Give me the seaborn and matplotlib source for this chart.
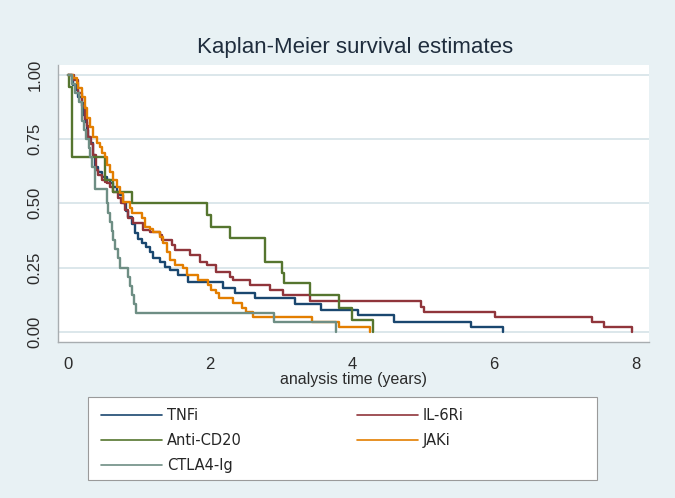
import matplotlib
matplotlib.use("Agg")
import matplotlib.pyplot as plt
from matplotlib.patches import Rectangle
import seaborn as sns
import pandas as pd

# Kaplan-Meier step values (time in years, survival after each step)
tnfi_t = [0, 0.05, 0.075, 0.12, 0.146, 0.19, 0.216, 0.24, 0.263, 0.286,
          0.31, 0.357, 0.38, 0.427, 0.474, 0.545, 0.592, 0.638, 0.685, 0.732,
          0.78, 0.82, 0.85, 0.9, 0.944, 0.99, 1.038, 1.1, 1.155, 1.2,
          1.3, 1.366, 1.437, 1.554, 1.695, 2.19, 2.35, 2.63, 3.2, 3.57,
          4.09, 4.59, 5.67, 6.13]
tnfi_s = [1.0, 0.98, 0.96, 0.942, 0.916, 0.89, 0.844, 0.818, 0.786, 0.76,
          0.734, 0.688, 0.643, 0.623, 0.604, 0.591, 0.578, 0.565, 0.545, 0.532,
          0.5, 0.47, 0.448, 0.42, 0.383, 0.36, 0.344, 0.33, 0.312, 0.286,
          0.27, 0.253, 0.24, 0.221, 0.195, 0.169, 0.149, 0.13, 0.108, 0.084,
          0.065, 0.039, 0.02, 0.0]

il6_t = [0, 0.09, 0.146, 0.19, 0.24, 0.263, 0.286, 0.33, 0.357, 0.4,
         0.427, 0.474, 0.52, 0.545, 0.59, 0.638, 0.7, 0.75, 0.803, 0.85,
         0.92, 1.061, 1.155, 1.296, 1.32, 1.46, 1.507, 1.718, 1.859, 1.953,
         2.09, 2.28, 2.33, 2.563, 2.845, 3.03, 3.408, 4.97, 5.01, 6.01,
         7.38, 7.55, 7.95]
il6_s = [1.0, 0.98, 0.93, 0.88, 0.83, 0.8, 0.76, 0.73, 0.69, 0.63,
         0.61, 0.591, 0.585, 0.578, 0.565, 0.545, 0.52, 0.5, 0.474, 0.442,
         0.422, 0.396, 0.39, 0.377, 0.357, 0.338, 0.318, 0.299, 0.273, 0.26,
         0.234, 0.214, 0.2, 0.182, 0.162, 0.143, 0.121, 0.095, 0.075, 0.056,
         0.036, 0.017, 0.0]

cd20_t = [0, 0.01, 0.05, 0.52, 0.64, 0.897, 1.953, 2.02, 2.28, 2.775,
          3.01, 3.04, 3.408, 3.81, 3.995, 4.29]
cd20_s = [1.0, 0.955, 0.682, 0.591, 0.545, 0.5, 0.455, 0.409, 0.364, 0.273,
          0.227, 0.19, 0.143, 0.091, 0.045, 0.0]

jak_t = [0, 0.075, 0.122, 0.146, 0.192, 0.24, 0.263, 0.31, 0.357, 0.404,
         0.45, 0.474, 0.52, 0.545, 0.592, 0.638, 0.685, 0.732, 0.78, 0.873,
         0.896, 1.037, 1.085, 1.155, 1.2, 1.296, 1.343, 1.39, 1.437, 1.507,
         1.624, 1.67, 1.836, 1.977, 2.02, 2.08, 2.12, 2.33, 2.45, 2.5,
         2.61, 3.43, 3.81, 4.25]
jak_s = [1.0, 0.987, 0.968, 0.948, 0.916, 0.87, 0.831, 0.799, 0.76, 0.734,
         0.721, 0.695, 0.682, 0.65, 0.623, 0.591, 0.565, 0.539, 0.506, 0.48,
         0.461, 0.441, 0.409, 0.402, 0.389, 0.37, 0.344, 0.312, 0.279, 0.26,
         0.247, 0.22, 0.201, 0.182, 0.163, 0.149, 0.13, 0.11, 0.091, 0.078,
         0.058, 0.039, 0.019, 0.0]

ctla_t = [0, 0.05, 0.1, 0.15, 0.19, 0.22, 0.26, 0.29, 0.31, 0.34,
          0.38, 0.545, 0.57, 0.59, 0.615, 0.64, 0.66, 0.7, 0.73, 0.85,
          0.873, 0.9, 0.93, 0.96, 2.9, 3.78]
ctla_s = [1.0, 0.964, 0.929, 0.893, 0.821, 0.786, 0.75, 0.714, 0.679, 0.643,
          0.557, 0.5, 0.464, 0.429, 0.393, 0.357, 0.321, 0.286, 0.25, 0.214,
          0.179, 0.143, 0.107, 0.071, 0.036, 0.0]

groups = ["TNFi", "IL-6Ri", "Anti-CD20", "JAKi", "CTLA4-Ig"]
series = {
    "TNFi": (tnfi_t, tnfi_s),
    "IL-6Ri": (il6_t, il6_s),
    "Anti-CD20": (cd20_t, cd20_s),
    "JAKi": (jak_t, jak_s),
    "CTLA4-Ig": (ctla_t, ctla_s),
}
# stata s2color palette
colors = {"TNFi": "#1a476f", "IL-6Ri": "#90353b", "Anti-CD20": "#55752f",
          "JAKi": "#e37e00", "CTLA4-Ig": "#6e8e84"}

bg = "#e8f1f4"
sns.set_style("white")
plt.rcParams["font.family"] = ["Liberation Sans", "DejaVu Sans"]

fig = plt.figure(figsize=(6.75, 4.98), dpi=100, facecolor=bg)
W, H = 675, 498
ax = fig.add_axes([58 / W, 1 - 341.7 / H, (649 - 58) / W, (341.7 - 65) / H])
ax.set_facecolor("white")

for g in groups:
    t, s = series[g]
    df = pd.DataFrame({"time": t, "surv": s})
    sns.lineplot(data=df, x="time", y="surv", ax=ax, color=colors[g], label=g,
                 drawstyle="steps-post", estimator=None, sort=False, lw=1.7)

ax.set_xlim(-0.141, 8.183)
ax.set_ylim(-0.039, 1.039)
ax.set_xticks([0, 2, 4, 6, 8])
ax.set_yticks([0, 0.25, 0.5, 0.75, 1.0])
ax.set_yticklabels(["0.00", "0.25", "0.50", "0.75", "1.00"], rotation=90, va="center")
ax.yaxis.grid(True, color="#dce7eb", lw=1.4)
ax.xaxis.grid(False)
ax.set_axisbelow(True)
for side in ["top", "right"]:
    ax.spines[side].set_visible(False)
for side in ["left", "bottom"]:
    ax.spines[side].set_color("#a8adb0")
    ax.spines[side].set_linewidth(1.0)
ax.tick_params(direction="out", length=5, width=1, color="#a8adb0",
               labelsize=12, labelcolor="#2b2b2b", pad=6)
ax.set_xlabel("analysis time (years)", fontsize=11.5, color="#2b2b2b", labelpad=0)
ax.set_ylabel("")

fig.text(355 / W, 1 - 48 / H, "Kaplan-Meier survival estimates", ha="center",
         va="center", fontsize=16, color="#1f2d3d")

# legend box like stata's
handles, labels = ax.get_legend_handles_labels()
ax.get_legend().remove()
lookup = dict(zip(labels, handles))
order = ["TNFi", "Anti-CD20", "CTLA4-Ig", "IL-6Ri", "JAKi"]
fig.add_artist(Rectangle((88 / W, 1 - 480 / H), (597 - 88) / W, (480 - 397) / H,
                         transform=fig.transFigure, facecolor="white",
                         edgecolor="#9a9a9a", lw=0.8, zorder=1))
leg = fig.legend([lookup[o] for o in order], order, ncol=2, loc="upper left",
                 bbox_to_anchor=(91 / W, 1 - 398 / H), frameon=False,
                 handlelength=4.2, handletextpad=0.3, columnspacing=7.9,
                 labelspacing=0.68, borderpad=0.2,
                 prop={"family": "DejaVu Sans", "size": 10.5})
leg.set_zorder(2)
for line in leg.get_lines():
    line.set_linewidth(1.2)

fig.savefig("out.png", dpi=100, facecolor=bg)
